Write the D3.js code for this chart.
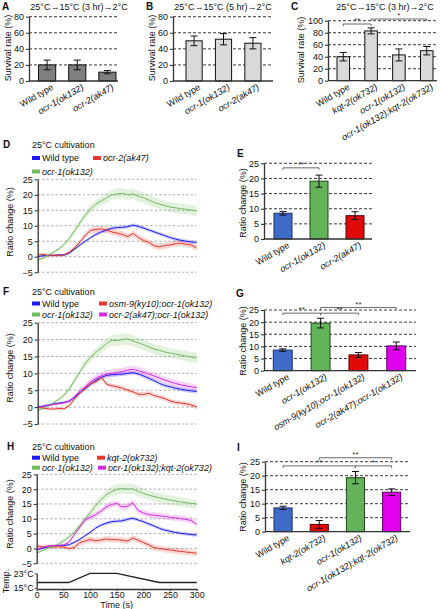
<!DOCTYPE html>
<html><head><meta charset="utf-8">
<script src="https://cdn.jsdelivr.net/npm/d3@7"></script>
<style>
body{margin:0;background:#fff}
svg{display:block;font-family:"Liberation Sans",Arial,Helvetica,sans-serif}
</style>
</head><body>
<svg id="fig" width="440" height="609"></svg>
<script>
// ---------------- DATA ----------------
const catsA = ["Wild type","ocr-1(ok132)","ocr-2(ak47)"];
const valsA = [20,20,11];
const errsA = [6,6,2];
const catsB = ["Wild type","ocr-1(ok132)","ocr-2(ak47)"];
const valsB = [50,52,47];
const errsB = [6,7,7];
const catsC = ["Wild type","kqt-2(ok732)","ocr-1(ok132)","ocr-1(ok132);kqt-2(ok732)"];
const valsC = [40,83,43,50];
const errsC = [7,5,10,7];
const sigC = [[0,1,"**"],[1,3,"*"]];

const catsE = ["Wild type","ocr-1(ok132)","ocr-2(ak47)"];
const valsE = [8.5,19.1,7.7];
const errsE = [0.6,2.0,1.3];
const sigE = [[0,1,"**"]];
const catsG = ["Wild type","ocr-1(ok132)","osm-9(ky10);ocr-1(ok132)","ocr-2(ak47);ocr-1(ok132)"];
const valsG = [8.5,19.6,6.5,10.2];
const errsG = [0.5,2.0,1.0,1.6];
const sigG = [[1,3,"**"],[0,1,"**"],[1,2,"**"]];
const catsI = ["Wild type","kqt-2(ok732)","ocr-1(ok132)","ocr-1(ok132);kqt-2(ok732)"];
const valsI = [8.5,2.6,19.3,14.1];
const errsI = [0.6,1.4,2.2,1.2];
const sigI = [[1,3,"**"],[0,2,"**"],[2,3,"*"]];

const ticksAB = [0,20,40,60,80];
const ticksC = [0,20,40,60,80,100];
const ticksRatio = [0,5,10,15,20,25];
const ticksTrace = [-5,0,5,10,15,20,25];
const ticksTime = [0,50,100,150,200,250,300];
const ticksTemp = [15,23];

const timeS = [0,10,20,30,40,50,60,70,80,90,100,110,120,130,140,150,160,170,180,190,200,210,220,230,240,250,260,270,280,290,300];

// D
const D_wt   = [0,0.3,0.5,0.4,0.6,0.5,1.2,2.5,3.8,5.0,6.2,7.2,8.0,8.6,9.2,9.4,9.5,9.7,10.2,9.8,9.2,8.6,8.0,7.4,6.8,6.2,5.7,5.3,5.0,4.8,4.6];
const D_ocr2 = [0.5,0.8,0.3,0.5,0.4,0.6,1.5,3.0,4.8,7.0,8.5,8.8,9.0,8.6,8.0,7.6,7.2,6.5,7.5,6.2,5.2,4.6,3.5,3.2,3.6,3.8,4.2,4.4,4.0,3.8,2.8];
const D_ocr1 = [-1,-0.5,0.5,1.5,2.5,4,6,8.5,11,13.5,15.5,17,18,19,20,20.3,20.5,20,20.3,19.5,19,18.3,17.5,17,16.5,16,15.8,15.5,15.3,15,14.8];
const D_wt_sem   = [0.3,0.3,0.3,0.3,0.3,0.3,0.4,0.4,0.5,0.5,0.5,0.6,0.6,0.6,0.6,0.6,0.6,0.6,0.6,0.6,0.6,0.6,0.6,0.6,0.6,0.6,0.6,0.6,0.6,0.6,0.6];
const D_ocr2_sem = [0.5,0.5,0.5,0.5,0.5,0.5,0.6,0.7,0.8,0.9,1.0,1.0,1.0,1.0,1.0,1.0,1.0,1.0,1.0,1.0,1.0,1.0,1.0,1.0,1.0,1.0,1.0,1.0,1.0,1.0,1.0];
const D_ocr1_sem = [0.4,0.4,0.5,0.5,0.6,0.7,0.8,0.9,1.0,1.1,1.2,1.3,1.4,1.5,1.6,1.7,1.7,1.7,1.7,1.7,1.7,1.6,1.6,1.6,1.6,1.6,1.6,1.6,1.6,1.6,1.6];

// F
const F_wt    = [0,0.3,0.6,0.9,1.2,1.4,1.8,3.0,4.3,5.5,6.8,8.0,8.8,9.4,9.6,9.7,9.8,10.0,10.2,9.8,9.2,8.5,7.8,7.0,6.4,6.0,5.6,5.3,5.0,4.8,4.6];
const F_ocr1  = [-1,-0.3,0.5,1.3,2.3,3.6,5.5,8.0,10.5,13.0,14.8,16.2,17.5,18.8,19.8,19.7,20.0,20.2,19.6,19.0,18.5,17.8,17.2,16.8,16.3,16.0,15.7,15.4,15.1,14.8,14.5];
const F_osm9  = [0,-0.3,-0.5,-0.6,-0.4,-0.5,0.5,2.5,4.2,5.8,7.0,7.5,8.8,6.8,6.3,6.0,5.6,5.0,4.5,3.8,3.8,4.1,3.4,3.0,2.5,1.8,1.4,1.2,1.0,0.6,0.1];
const F_ocr2  = [0,0.2,0.5,0.8,1.0,1.3,1.8,3.2,4.8,6.0,7.5,8.6,9.3,9.8,10.0,10.3,10.5,11.0,11.2,10.8,10.3,9.8,9.2,8.6,8.0,7.5,7.0,6.6,6.3,6.0,5.8];
const F_wt_sem   = [0.3,0.3,0.3,0.3,0.3,0.3,0.4,0.4,0.5,0.5,0.5,0.6,0.6,0.6,0.6,0.6,0.6,0.6,0.6,0.6,0.6,0.6,0.6,0.6,0.6,0.6,0.6,0.6,0.6,0.6,0.6];
const F_ocr1_sem = [0.4,0.4,0.5,0.5,0.6,0.7,0.8,0.9,1.0,1.1,1.2,1.3,1.4,1.5,1.6,1.7,1.7,1.7,1.6,1.6,1.6,1.5,1.5,1.5,1.5,1.5,1.5,1.5,1.5,1.5,1.5];
const F_osm9_sem = [0.4,0.4,0.4,0.4,0.4,0.4,0.5,0.6,0.6,0.7,0.7,0.7,0.7,0.7,0.7,0.7,0.7,0.7,0.7,0.7,0.7,0.7,0.7,0.7,0.7,0.7,0.7,0.7,0.7,0.7,0.7];
const F_ocr2_sem = [0.4,0.4,0.4,0.4,0.4,0.5,0.6,0.7,0.8,0.9,1.0,1.0,1.0,1.1,1.1,1.1,1.1,1.1,1.1,1.1,1.1,1.0,1.0,1.0,1.0,1.0,1.0,1.0,1.0,1.0,1.0];

// H
const H_wt    = [-0.5,0,0.5,0.8,1.0,1.0,1.2,2.0,3.0,4.2,5.4,6.8,7.8,8.5,9.0,9.2,9.3,9.8,10.2,9.6,9.0,8.3,7.6,6.8,6.2,5.8,5.4,5.1,4.9,4.7,4.5];
const H_kqt2  = [0.8,0.5,0.7,0.5,0.6,0.5,0.0,0.3,1.8,2.5,3.0,2.6,2.8,3.2,3.0,3.0,2.8,2.5,3.5,2.8,2.0,1.2,0.3,0,-0.3,-0.5,-0.8,-1.0,-1.2,-1.4,-1.6];
const H_ocr1  = [-1.5,-0.8,0,0.6,1.4,2.5,3.8,5.5,7.5,9.8,12.0,14.3,16.3,18.0,19.2,19.9,20.2,20.0,20.1,19.2,18.6,18.0,17.5,17.1,16.7,16.3,16.0,15.7,15.4,15.2,15.0];
const H_dbl   = [-0.5,0.3,0.8,1.0,1.0,1.2,2.0,4.5,7.0,9.5,10.5,11.3,12.5,14.0,14.8,15.2,14.0,14.2,15.4,12.8,12.0,11.4,11.2,11.0,10.8,10.5,10.3,10.1,9.8,9.4,8.2];
const H_wt_sem   = [0.3,0.3,0.3,0.3,0.3,0.3,0.4,0.4,0.5,0.5,0.5,0.6,0.6,0.6,0.6,0.6,0.6,0.6,0.6,0.6,0.6,0.6,0.6,0.6,0.6,0.6,0.6,0.6,0.6,0.6,0.6];
const H_kqt2_sem = [0.7,0.7,0.7,0.7,0.7,0.7,0.8,0.9,1.0,1.0,1.0,1.0,1.0,1.0,1.0,1.0,1.0,1.0,1.0,1.0,1.0,1.0,1.0,1.0,1.0,1.0,1.0,1.0,1.0,1.0,1.0];
const H_ocr1_sem = [0.4,0.4,0.5,0.5,0.6,0.7,0.8,0.9,1.0,1.1,1.2,1.3,1.4,1.5,1.6,1.7,1.7,1.7,1.7,1.7,1.7,1.6,1.6,1.6,1.6,1.6,1.6,1.6,1.6,1.6,1.6];
const H_dbl_sem  = [0.4,0.4,0.4,0.4,0.5,0.5,0.6,0.7,0.8,0.9,1.0,1.0,1.0,1.0,1.0,1.0,1.0,1.0,1.0,1.0,1.0,1.0,1.0,1.0,1.0,1.0,1.0,1.0,1.0,1.0,1.0];

const tempT = [0,60,100,150,230,300];
const tempC = [18,18,23,23,18,18];

// ---------------- DRAWING ----------------
const svg = d3.select("#fig");
const C = {blue:"#3f6cc9", green:"#63b35a", red:"#e00a0a", mag:"#e000ee", grayD:"#7f7f7f", grayL:"#d9d9d9"};
const LC = {blue:"#1c1cf2", green:"#74ba5e", red:"#e5352d", mag:"#d52be3"};

function label(x,y,s,o={}){
  const t = svg.append("text").attr("x",x).attr("y",y).attr("font-size",o.fs||9).attr("fill","#111")
    .attr("text-anchor",o.anchor||"start").text(s);
  if(o.bold) t.attr("font-weight","bold");
  if(o.italic) t.attr("font-style","italic");
  return t;
}
function vlabel(x,y,s,fs){
  svg.append("text").attr("transform",`translate(${x},${y}) rotate(-90)`).attr("text-anchor","middle")
    .attr("font-size",fs||9).attr("fill","#111").text(s);
}
function styleAxis(ag,fs){
  ag.attr("font-size",fs||9).attr("font-family",null);
  ag.select(".domain").attr("stroke","#333").attr("stroke-width",1.3);
  ag.selectAll(".tick line").attr("stroke","#333").attr("stroke-width",1.1);
  ag.selectAll(".tick text").attr("fill","#111");
}

function barPanel(c){
  const g = svg.append("g");
  const y = d3.scaleLinear().domain([0,c.ymax]).range([c.y0,c.y1]);
  const x = d3.scaleBand().domain(c.cats).range([c.bx0,c.bx1]).paddingInner(c.pad).paddingOuter(0);
  const cx = d => x(d)+x.bandwidth()/2;
  g.selectAll(".grid").data(c.ticks.filter(t=>t>0)).join("line")
    .attr("x1",c.ax).attr("x2",c.right).attr("y1",d=>y(d)).attr("y2",d=>y(d))
    .attr("stroke","#222").attr("stroke-width",0.9).attr("stroke-dasharray","3,2");
  g.selectAll(".bar").data(c.vals).join("rect")
    .attr("x",(d,i)=>x(c.cats[i])).attr("width",x.bandwidth())
    .attr("y",d=>y(d)).attr("height",d=>y(0)-y(d))
    .attr("fill",(d,i)=>c.fills[i]).attr("stroke",(d,i)=>c.strokes[i]).attr("stroke-width",1);
  const eb = g.selectAll(".err").data(c.vals).join("g");
  eb.append("line").attr("x1",(d,i)=>cx(c.cats[i])).attr("x2",(d,i)=>cx(c.cats[i]))
    .attr("y1",(d,i)=>y(d-c.errs[i])).attr("y2",(d,i)=>y(d+c.errs[i])).attr("stroke","#111").attr("stroke-width",1);
  [-1,1].forEach(s=>{
    eb.append("line").attr("x1",(d,i)=>cx(c.cats[i])-c.cap).attr("x2",(d,i)=>cx(c.cats[i])+c.cap)
      .attr("y1",(d,i)=>y(d+s*c.errs[i])).attr("y2",(d,i)=>y(d+s*c.errs[i])).attr("stroke","#111").attr("stroke-width",1);
  });
  g.append("line").attr("x1",c.ax).attr("x2",c.right).attr("y1",y(0)).attr("y2",y(0))
    .attr("stroke","#333").attr("stroke-width",1.3);
  const ag = g.append("g").attr("transform",`translate(${c.ax},0)`)
    .call(d3.axisLeft(y).tickValues(c.ticks).tickSize(3).tickSizeOuter(0).tickPadding(2));
  styleAxis(ag);
  g.selectAll(".xl").data(c.cats).join("text")
    .attr("transform",d=>`translate(${cx(d)+7},${y(0)+8}) rotate(-30)`)
    .attr("text-anchor","end").attr("font-size",9).attr("fill","#111")
    .attr("font-style",d=>d==="Wild type"?"normal":"italic").text(d=>d);
  (c.sig||[]).forEach((s,k)=>{
    const a = cx(c.cats[s[0]]), b = cx(c.cats[s[1]]), yy = y(c.sigY[k]);
    g.append("path").attr("d",`M${a},${yy+2}V${yy}H${b}V${yy+2}`).attr("fill","none")
      .attr("stroke","#555").attr("stroke-width",0.9);
    g.append("text").attr("x",(a+b)/2).attr("y",yy-0.8).attr("text-anchor","middle")
      .attr("font-size",8).attr("fill","#333").text(s[2]);
  });
}

function tracePanel(c){
  const g = svg.append("g");
  const x = d3.scaleLinear().domain([0,300]).range([c.x0,c.x1]);
  const y = d3.scaleLinear().domain([-5,25]).range([c.yb,c.yt]);
  g.selectAll(".grid").data(ticksTrace).join("line")
    .attr("x1",c.x0).attr("x2",c.x1).attr("y1",d=>y(d)).attr("y2",d=>y(d))
    .attr("stroke","#9a9a9a").attr("stroke-width",0.8).attr("stroke-dasharray","2.5,2");
  c.series.forEach(s=>{
    const area = d3.area().x((d,i)=>x(timeS[i])).y0((d,i)=>y(d-s.sem[i])).y1((d,i)=>y(d+s.sem[i]));
    g.append("path").attr("d",area(s.v)).attr("fill",s.col).attr("opacity",0.2);
  });
  c.series.forEach(s=>{
    const line = d3.line().x((d,i)=>x(timeS[i])).y(d=>y(d));
    g.append("path").attr("d",line(s.v)).attr("fill","none").attr("stroke",s.col).attr("stroke-width",1);
  });
  const ag = g.append("g").attr("transform",`translate(${c.x0},0)`)
    .call(d3.axisLeft(y).tickValues(ticksTrace).tickSize(3).tickSizeOuter(0).tickPadding(2)
      .tickFormat(d=>d<0?"\u2212"+(-d):d));
  styleAxis(ag);
  c.series.forEach(s=>{
    g.append("rect").attr("x",s.lx).attr("y",s.ly-2).attr("width",8).attr("height",4).attr("fill",s.col);
    g.append("text").attr("x",s.lx+10).attr("y",s.ly+3.2).attr("font-size",9).attr("fill","#111")
      .attr("font-style",s.name==="Wild type"?"normal":"italic").text(s.name);
  });
  return x;
}

// Panel A
label(2,10,"A",{bold:true,fs:10});
label(79,10,"25°C\u219215°C (3 hr)\u21922°C",{anchor:"middle"});
barPanel({cats:catsA,vals:valsA,errs:errsA,ymax:80,y0:81,y1:16.7,ticks:ticksAB,ax:29,right:118,bx0:38.5,bx1:116,pad:0.43,
  fills:[C.grayD,C.grayD,C.grayD],strokes:["#111","#111","#111"],cap:3.5});
vlabel(11,48,"Survival rate (%)");
// Panel B
label(146,10,"B",{bold:true,fs:10});
label(223,10,"25°C\u219215°C (5 hr)\u21922°C",{anchor:"middle"});
barPanel({cats:catsB,vals:valsB,errs:errsB,ymax:80,y0:81,y1:16.7,ticks:ticksAB,ax:173,right:273,bx0:186,bx1:261,pad:0.45,
  fills:[C.grayL,C.grayL,C.grayL],strokes:["#111","#111","#111"],cap:3.5});
vlabel(155,48,"Survival rate (%)");
// Panel C
label(291,10,"C",{bold:true,fs:10});
label(385,10,"25°C\u219215°C (3 hr)\u21922°C",{anchor:"middle"});
barPanel({cats:catsC,vals:valsC,errs:errsC,ymax:100,y0:80.7,y1:20.7,ticks:ticksC,ax:328,right:437,bx0:337,bx1:433,pad:0.55,
  fills:[C.grayL,C.grayL,C.grayL,C.grayL],strokes:["#111","#111","#111","#111"],cap:3.5,sig:sigC,sigY:[94.5,102.8]});
vlabel(304,50,"Survival rate (%)");

// Panel D
label(3,148,"D",{bold:true,fs:10});
label(32,148,"25°C cultivation");
tracePanel({x0:37.7,x1:196.7,yb:272.2,yt:179.3,series:[
  {name:"Wild type",v:D_wt,sem:D_wt_sem,col:LC.blue,lx:32,ly:158},
  {name:"ocr-2(ak47)",v:D_ocr2,sem:D_ocr2_sem,col:LC.red,lx:93,ly:158},
  {name:"ocr-1(ok132)",v:D_ocr1,sem:D_ocr1_sem,col:LC.green,lx:32,ly:171.5}]});
vlabel(13,222,"Ratio change (%)");

// Panel E
label(237,157,"E",{bold:true,fs:10});
barPanel({cats:catsE,vals:valsE,errs:errsE,ymax:25,y0:239,y1:163.3,ticks:ticksRatio,ax:264,right:372,bx0:274,bx1:364,pad:0.5,
  fills:[C.blue,C.green,C.red],strokes:["#1d2f66","#22481c","#5a0000"],cap:3.5,sig:sigE,sigY:[23.5]});
vlabel(246,203,"Ratio change (%)");

// Panel F
label(3,295,"F",{bold:true,fs:10});
label(32,295,"25°C cultivation");
tracePanel({x0:37.7,x1:196.7,yb:424,yt:322.7,series:[
  {name:"Wild type",v:F_wt,sem:F_wt_sem,col:LC.blue,lx:32,ly:303.5},
  {name:"osm-9(ky10);ocr-1(ok132)",v:F_osm9,sem:F_osm9_sem,col:LC.red,lx:99,ly:303.5},
  {name:"ocr-1(ok132)",v:F_ocr1,sem:F_ocr1_sem,col:LC.green,lx:32,ly:314.5},
  {name:"ocr-2(ak47);ocr-1(ok132)",v:F_ocr2,sem:F_ocr2_sem,col:LC.mag,lx:99,ly:314.5}]});
vlabel(13,368,"Ratio change (%)");

// Panel G
label(236,297,"G",{bold:true,fs:10});
barPanel({cats:catsG,vals:valsG,errs:errsG,ymax:25,y0:370.7,y1:310,ticks:ticksRatio,ax:264,right:416,bx0:273.3,bx1:405.7,pad:0.5,
  fills:[C.blue,C.green,C.red,C.mag],strokes:["#1d2f66","#22481c","#5a0000","#5a0060"],cap:3.5,sig:sigG,sigY:[26,23.7,23.7]});
vlabel(246,341,"Ratio change (%)");

// Panel H
label(7,450,"H",{bold:true,fs:10});
label(32,450,"25°C cultivation");
const xH = tracePanel({x0:36.7,x1:196.7,yb:563.3,yt:474.3,series:[
  {name:"Wild type",v:H_wt,sem:H_wt_sem,col:LC.blue,lx:32,ly:457.7},
  {name:"kqt-2(ok732)",v:H_kqt2,sem:H_kqt2_sem,col:LC.red,lx:97,ly:457.7},
  {name:"ocr-1(ok132)",v:H_ocr1,sem:H_ocr1_sem,col:LC.green,lx:32,ly:467.7},
  {name:"ocr-1(ok132);kqt-2(ok732)",v:H_dbl,sem:H_dbl_sem,col:LC.mag,lx:98,ly:467.7}]});
vlabel(13,514,"Ratio change (%)");
// temperature subplot
const yT = d3.scaleLinear().domain([15,23]).range([588,573.3]);
svg.append("path").attr("d",d3.line().x((d,i)=>xH(tempT[i])).y(d=>yT(d))(tempC))
  .attr("fill","none").attr("stroke","#222").attr("stroke-width",1.3);
const tag = svg.append("g").attr("transform","translate(36.7,0)")
  .call(d3.axisLeft(yT).tickValues(ticksTemp).tickSize(2).tickSizeOuter(0).tickPadding(1).tickFormat(d=>d+"°C"));
styleAxis(tag);
const xag = svg.append("g").attr("transform","translate(0,589)")
  .call(d3.axisBottom(xH).tickValues(ticksTime).tickSize(2).tickSizeOuter(0).tickPadding(0.5));
styleAxis(xag,8.8);
label(116.7,608,"Time (s)",{anchor:"middle"});
vlabel(9,581,"Temp.");

// Panel I
label(237,451,"I",{bold:true,fs:10});
barPanel({cats:catsI,vals:valsI,errs:errsI,ymax:25,y0:531.7,y1:461.7,ticks:ticksRatio,ax:265,right:410,bx0:274,bx1:400.7,pad:0.5,
  fills:[C.blue,C.red,C.green,C.mag],strokes:["#1d2f66","#5a0000","#22481c","#5a0060"],cap:3.5,sig:sigI,sigY:[26.4,23.5,23.5]});
vlabel(246,497,"Ratio change (%)");
</script>
</body></html>
